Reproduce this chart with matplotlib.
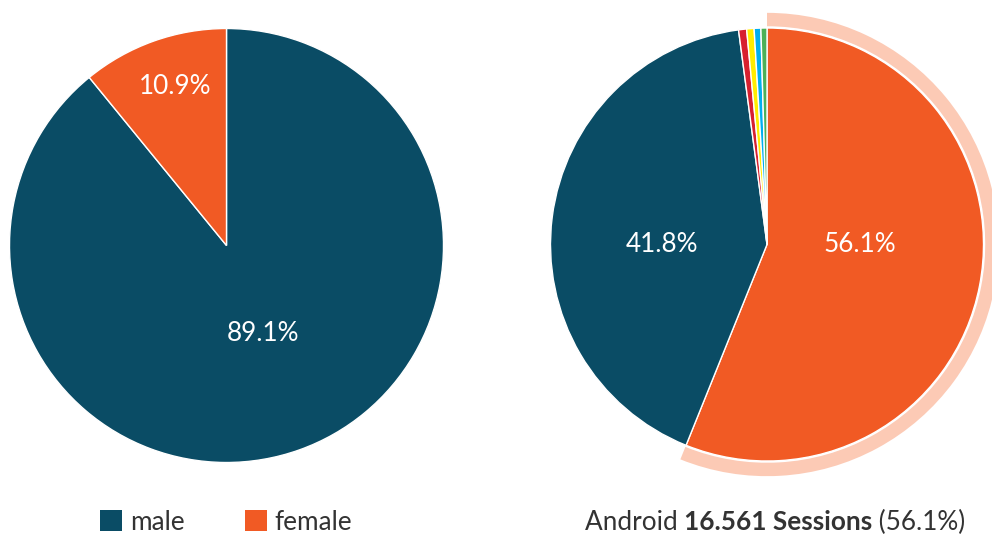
import numpy as np
import matplotlib.pyplot as plt
from matplotlib.patches import Wedge

plt.rcParams['font.family'] = ['Lato', 'DejaVu Sans']

# data
gender_labels = ['male', 'female']
gender_share = [89.1, 10.9]
gender_colors = ['#0a4c65', '#f15a24']

os_labels = ['Android', 'iOS', 'Windows', 'Other', 'Linux', 'Mac']
os_share = [56.1, 41.8, 0.6, 0.55, 0.5, 0.45]
os_colors = ['#f15a24', '#0a4c65', '#d7202f', '#ffec00', '#00aeef', '#4db058']
highlight_sessions = '16.561'

W, H = 992, 539
fig = plt.figure(figsize=(W / 100, H / 100), dpi=100)

LIM = 1.12
FS = 18.8


def pie_axes(cx, cy, r):
    half = r * LIM
    ax = fig.add_axes([(cx - half) / W, (H - cy - half) / H, 2 * half / W, 2 * half / H])
    return ax


def draw_pie(ax, values, colors, label_pos):
    wedges, _, autotexts = ax.pie(values, colors=colors, startangle=90, counterclock=False,
                                  autopct='%.1f%%', radius=1,
                                  wedgeprops=dict(edgecolor='white', linewidth=1))
    for i, t in enumerate(autotexts):
        if i < len(label_pos):
            t.set_position(label_pos[i])
            t.set_color('white')
            t.set_fontsize(FS)
        else:
            t.set_visible(False)
    ax.set_xlim(-LIM, LIM)
    ax.set_ylim(-LIM, LIM)
    ax.set_aspect('equal')
    ax.axis('off')
    return wedges


# left pie (gender)
ax1 = pie_axes(226.5, 245.5, 217)
w1 = draw_pie(ax1, gender_share, gender_colors, [(0.167, -0.405), (-0.236, 0.734)])

# right pie (os)
ax2 = pie_axes(767, 244.5, 216.5)
w2 = draw_pie(ax2, os_share, os_colors, [(0.43, 0.0), (-0.486, 0.0)])

# hover halo around Android slice
hw = w2[0]
halo = Wedge((0, 0), 1.07, hw.theta1, hw.theta2, width=0.062,
             facecolor='#fccab5', edgecolor='none', clip_on=False, zorder=0)
ax2.add_patch(halo)

# legend for left pie
fig.legend(w1, gender_labels, loc='center', bbox_to_anchor=(226 / W, 1 - 522 / H),
           ncol=2, frameon=False, fontsize=FS, handlelength=0.85, handleheight=0.85,
           handletextpad=0.3, columnspacing=2.3, labelcolor='#333333')
for h in fig.legends[0].legend_handles:
    h.set_edgecolor('none')

# caption for highlighted slice
fig.canvas.draw()
r = fig.canvas.get_renderer()
parts = [('Android ', 'normal'), (highlight_sessions + ' Sessions', 'bold'),
         (' (%.1f%%)' % os_share[0], 'normal')]
texts = []
x = 0
for s, wgt in parts:
    t = fig.text(x, 1 - 522 / H, s, fontsize=FS, fontweight=wgt, color='#333333',
                 ha='left', va='center')
    x += t.get_window_extent(r).width / W
    texts.append(t)
total = x
x0 = 775 / W - total / 2
x = x0
for t in texts:
    t.set_x(x)
    x += t.get_window_extent(r).width / W

fig.savefig('out.png', dpi=100)
